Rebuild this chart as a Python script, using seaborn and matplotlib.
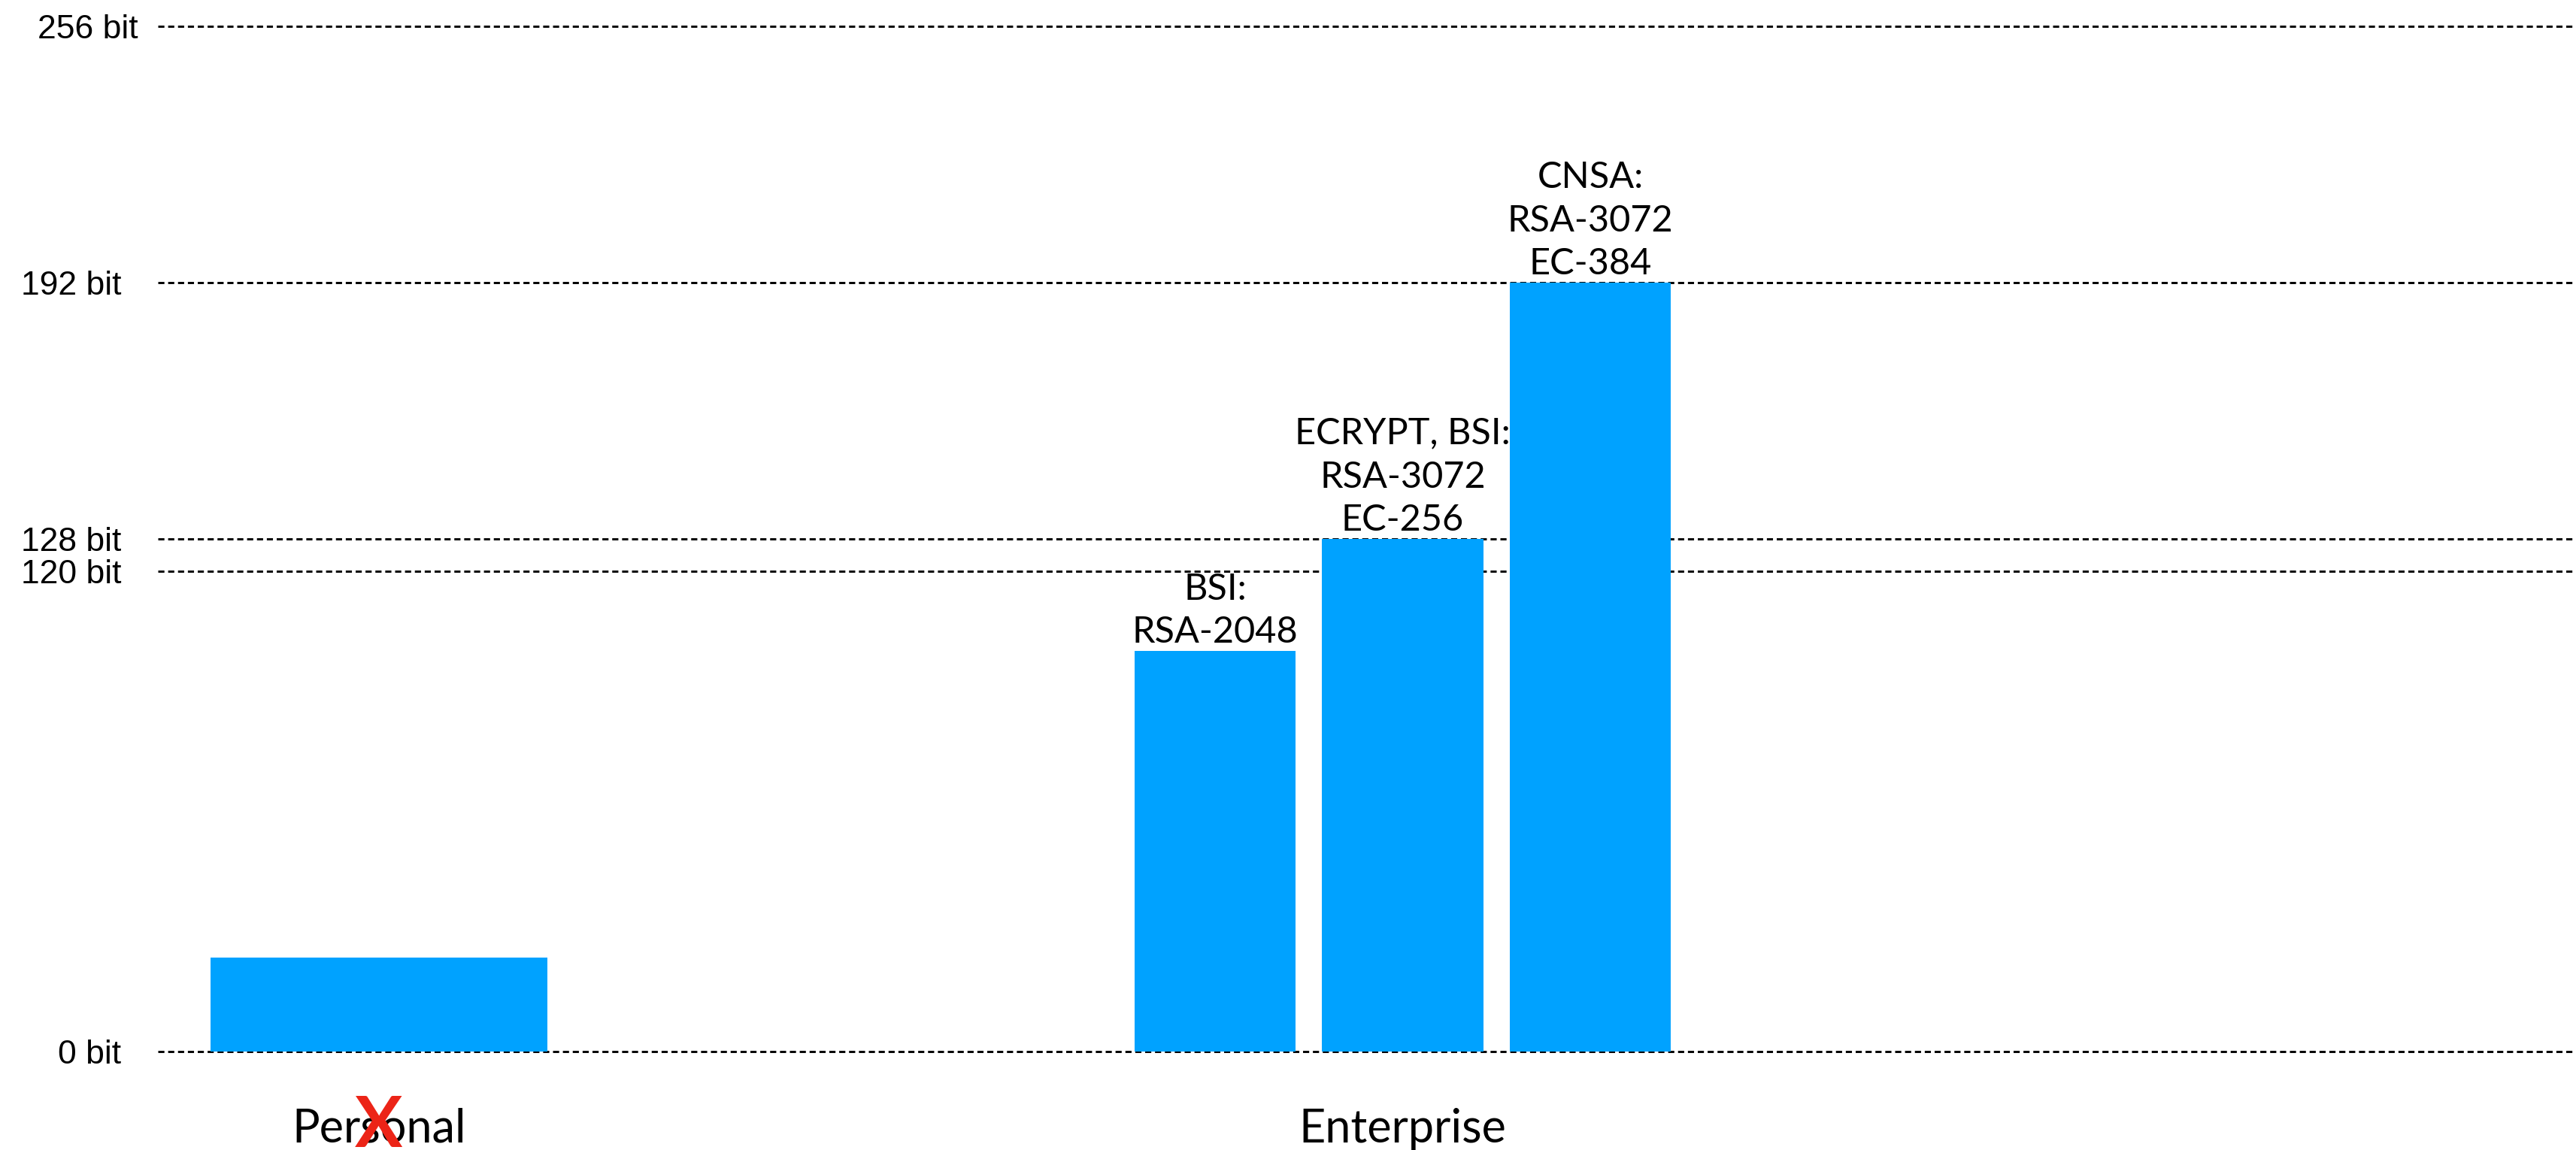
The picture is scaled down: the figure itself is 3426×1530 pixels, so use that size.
import matplotlib
matplotlib.use("Agg")
import matplotlib.pyplot as plt
import matplotlib.transforms as mtransforms
import seaborn as sns
import pandas as pd

# ---- data ----
personal_values = [23.5]
enterprise_values = [100, 128, 192]
enterprise_labels = ["BSI:\nRSA-2048", "ECRYPT, BSI:\nRSA-3072\nEC-256", "CNSA:\nRSA-3072\nEC-384"]
category_labels = ["Personal", "Enterprise"]
ytick_values = [0, 120, 128, 192, 256]
ytick_labels = ["0 bit", "120 bit", "128 bit", "192 bit", "256 bit"]

# ---- layout (positions, not data) ----
enterprise_pos = [0, 1, 2]
personal_pos = [-4.457]
BAR_COLOR = "#00A2FF"

sns.set_style("white")
plt.rcParams["font.family"] = ["Lato", "DejaVu Sans"]
plt.rcParams["text.color"] = "black"
plt.rcParams["xtick.color"] = "black"
plt.rcParams["ytick.color"] = "black"
plt.rcParams["axes.labelcolor"] = "black"

W, H = 3426, 1530
fig = plt.figure(figsize=(W / 100, H / 100), dpi=100)
ax = fig.add_axes([210 / W, 1 - 1404.3 / H, (W - 210) / W, (1404.3 - 29.7) / H])

df_p = pd.DataFrame({"x": personal_pos, "y": personal_values})
df_e = pd.DataFrame({"x": enterprise_pos, "y": enterprise_values})

sns.barplot(data=df_p, x="x", y="y", native_scale=True, color=BAR_COLOR,
            saturation=1, width=1.796, errorbar=None, ax=ax, linewidth=0)
sns.barplot(data=df_e, x="x", y="y", native_scale=True, color=BAR_COLOR,
            saturation=1, width=0.858, errorbar=None, ax=ax, linewidth=0)

ax.set_xlim(-5.635, 7.254)
ax.set_ylim(-1, 257)
ax.set_xlabel("")
ax.set_ylabel("")
for s in ax.spines.values():
    s.set_visible(False)

# grid
ax.set_axisbelow(True)
ax.set_yticks(ytick_values)
ax.set_yticklabels(ytick_labels, fontfamily="Liberation Sans", fontsize=32, color="black")
ax.yaxis.grid(True, color="black", linestyle=(0, (2.8, 1.7)), linewidth=2.1)
ax.xaxis.grid(False)
ax.tick_params(axis="y", length=0, pad=35)
# the top label sits slightly further right
for lbl in ax.get_yticklabels():
    if lbl.get_text() == "256 bit":
        lbl.set_transform(lbl.get_transform() + mtransforms.ScaledTranslation(22 / 100, 0, fig.dpi_scale_trans))

# category labels
ax.set_xticks([personal_pos[0], enterprise_pos[1]])
ax.set_xticklabels(category_labels, fontsize=44, color="black")
ax.tick_params(axis="x", length=0, pad=50)

# annotations over enterprise bars
ax.bar_label(ax.containers[1], labels=enterprise_labels, fontsize=35,
             linespacing=1.38, padding=2, color="black")

# red cross over the "s" of Personal
trans = mtransforms.blended_transform_factory(ax.transData, fig.transFigure)
ax.text(personal_pos[0], 1 - 1526 / H, "X", transform=trans, color="#EC2417",
        fontsize=68, fontweight="bold", ha="center", va="baseline", clip_on=False)

fig.savefig("out.png", dpi=100, facecolor="white")
